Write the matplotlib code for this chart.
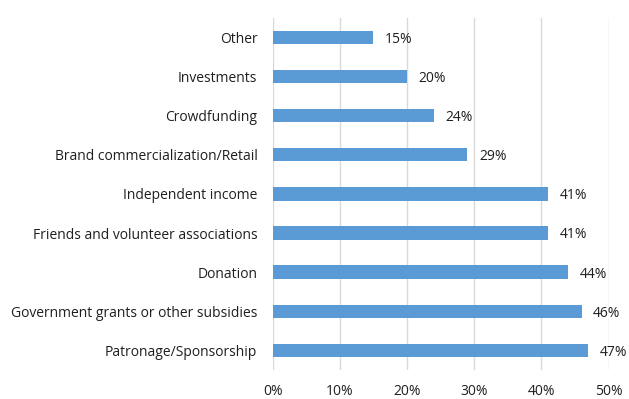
import matplotlib.pyplot as plt
from matplotlib.ticker import PercentFormatter

# funding sources, top to bottom as shown
sources = ['Other', 'Investments', 'Crowdfunding', 'Brand commercialization/Retail',
           'Independent income', 'Friends and volunteer associations', 'Donation',
           'Government grants or other subsidies', 'Patronage/Sponsorship']
shares = [15, 20, 24, 29, 41, 41, 44, 46, 47]
xticks = [0, 10, 20, 30, 40, 50]

plt.rcParams['font.family'] = ['Open Sans', 'DejaVu Sans']

fig = plt.figure(figsize=(6.29, 3.99), dpi=100)
ax = fig.add_axes([0.4335, 0.073, 0.534, 0.882])

ypos = list(range(len(sources)))
ax.barh(ypos, shares, height=0.34, color='#5B9BD5', zorder=3)

# value labels beside each bar
for y, v in zip(ypos, shares):
    ax.text(v + 1.7, y + 0.05, f'{v}%', va='center', ha='left', fontsize=10, color='#1f1f1f')

ax.set_yticks(ypos)
ax.set_yticklabels(sources, fontsize=10, color='#1f1f1f')
ax.set_ylim(len(sources) - 0.5, -0.5)

ax.set_xlim(0, 50)
ax.set_xticks(xticks)
ax.xaxis.set_major_formatter(PercentFormatter(decimals=0))
ax.tick_params(axis='x', labelsize=10, labelcolor='#1f1f1f', length=0, pad=10)
ax.tick_params(axis='y', length=0, pad=11)
ax.grid(axis='x', color='#D9D9D9', linewidth=1, zorder=0)

for s in ax.spines.values():
    s.set_visible(False)

fig.savefig('out.png', dpi=100)
